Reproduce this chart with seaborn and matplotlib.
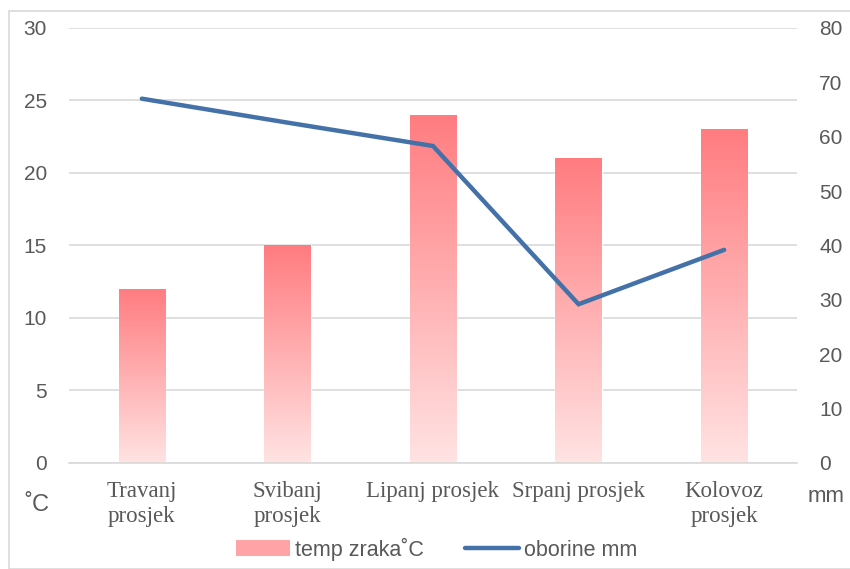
import seaborn as sns
import matplotlib.pyplot as plt
import matplotlib.patches as mpatches
from matplotlib.lines import Line2D
from matplotlib.colors import LinearSegmentedColormap
import pandas as pd
import numpy as np

months = ["Travanj\nprosjek", "Svibanj\nprosjek", "Lipanj prosjek", "Srpanj prosjek", "Kolovoz\nprosjek"]
temp = [12, 15, 24, 21, 23]
rain = [67, 62.6, 58.3, 29.2, 39.2]

df = pd.DataFrame({"mjesec": months, "temp": temp, "oborine": rain})

sns.set_style("white")
plt.rcParams["font.family"] = ["Liberation Sans", "DejaVu Sans"]

fig = plt.figure(figsize=(8.5, 5.69), dpi=100)
ax = fig.add_axes([0.0812, 0.1863, 0.8564, 0.7645])

sns.barplot(data=df, x="mjesec", y="temp", color="#FF7C80", width=0.32, ax=ax, zorder=2)

# gradient fill for each bar
cmap = LinearSegmentedColormap.from_list("grad", ["#FFE3E3", "#FF7C80"])
grad = np.linspace(0, 1, 256).reshape(-1, 1)
for p in ax.patches:
    x0, y0 = p.get_x(), p.get_y()
    w, h = p.get_width(), p.get_height()
    im = ax.imshow(grad, cmap=cmap, origin="lower", aspect="auto",
                   extent=[x0, x0 + w, y0, y0 + h], zorder=2)
    im.set_clip_path(p)
    p.set_facecolor("none")

ax.set_xlim(-0.5, 4.5)
ax.set_ylim(0, 30)
ax.set_yticks(range(0, 31, 5))
ax.grid(axis="y", color="#D9D9D9", linewidth=1.2, zorder=0)
ax.set_axisbelow(True)
for s in ["top", "right", "left"]:
    ax.spines[s].set_visible(False)
ax.spines["bottom"].set_color("#D9D9D9")
ax.spines["bottom"].set_linewidth(1.2)
ax.tick_params(axis="both", length=0)
ax.tick_params(axis="y", labelsize=15, labelcolor="#595959", pad=16)
ax.tick_params(axis="x", pad=13)
for lbl in ax.get_xticklabels():
    lbl.set_fontfamily("Liberation Serif")
    lbl.set_fontsize(16.5)
    lbl.set_color("#595959")
    lbl.set_linespacing(1.25)
    lbl.set_verticalalignment("top")
ax.set_xlabel("")
ax.set_ylabel("")

ax2 = ax.twinx()
sns.lineplot(x=np.arange(len(months)), y=rain, ax=ax2, color="#4472A8", linewidth=3.2,
             solid_capstyle="round", solid_joinstyle="miter")
ax2.set_ylim(0, 80)
ax2.set_yticks(range(0, 81, 10))
for s in ["top", "right", "left", "bottom"]:
    ax2.spines[s].set_visible(False)
ax2.tick_params(axis="y", length=0, labelsize=15, labelcolor="#595959", pad=16)
ax2.grid(False)

fig.text(37 / 850, 1 - 505 / 569, "˚C", fontsize=17, color="#595959", ha="center", va="center")
fig.text(826 / 850, 1 - 497 / 569, "mm", fontsize=16, color="#595959", ha="center", va="center")

# legend
handles = [mpatches.Patch(facecolor="#FFA3A6", edgecolor="none"),
           Line2D([0], [0], color="#4472A8", linewidth=3.2, solid_capstyle="round")]
fig.legend(handles, ["temp zraka˚C", "oborine mm"], loc="center",
           bbox_to_anchor=(437 / 850, 1 - 549 / 569), ncol=2, frameon=False,
           fontsize=15.5, labelcolor="#595959", handlelength=2.5, handleheight=0.7,
           columnspacing=1.9, handletextpad=0.25)

# outer chart frame
fig.patches.append(mpatches.Rectangle((9 / 850, 0.0), 1.0, 1 - 11 / 569, transform=fig.transFigure,
                                      fill=False, edgecolor="#D9D9D9", linewidth=1.2))

fig.savefig("out.png", dpi=100)
